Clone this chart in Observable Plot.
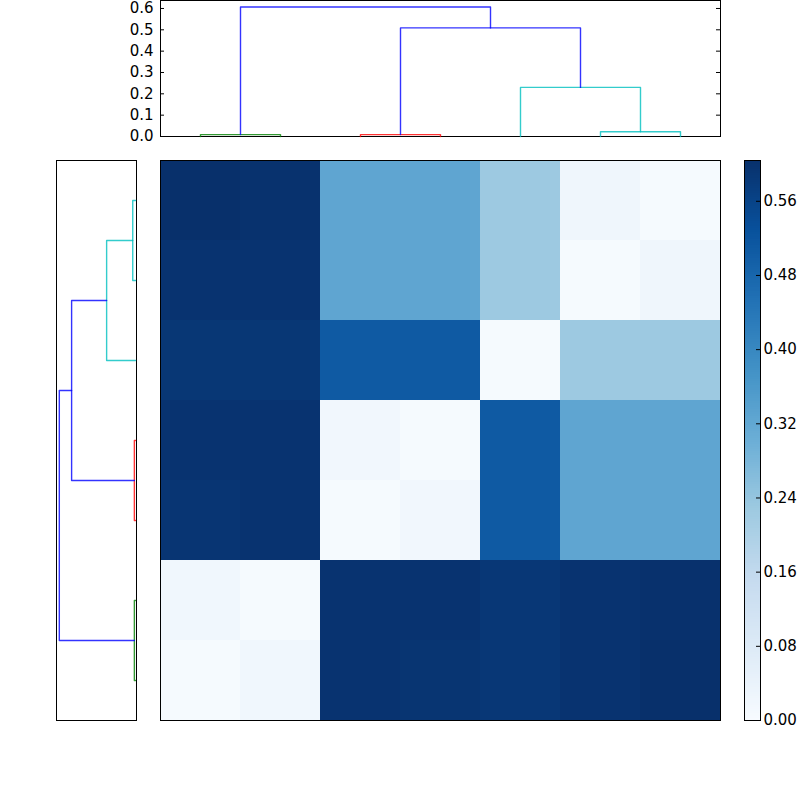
<!DOCTYPE html>
<html><head><meta charset="utf-8">
<script src="https://cdn.jsdelivr.net/npm/d3@7"></script>
<script src="https://cdn.jsdelivr.net/npm/@observablehq/plot@0.6"></script>
<style>
html,body{margin:0;padding:0;background:#fff;}
#root{position:relative;width:800px;height:800px;overflow:hidden;font-family:"DejaVu Sans",sans-serif;}
#root > svg{position:absolute;}
</style></head><body><div id="root"></div>
<script>
// Heatmap values (rows top→bottom, columns left→right)
const matrix = [
  [0.604, 0.600, 0.325, 0.325, 0.228, 0.025, 0.005],
  [0.597, 0.597, 0.325, 0.325, 0.228, 0.005, 0.025],
  [0.588, 0.588, 0.508, 0.508, 0.005, 0.228, 0.228],
  [0.596, 0.596, 0.018, 0.006, 0.508, 0.325, 0.325],
  [0.592, 0.596, 0.006, 0.018, 0.508, 0.325, 0.325],
  [0.020, 0.005, 0.596, 0.596, 0.587, 0.597, 0.601],
  [0.005, 0.020, 0.596, 0.593, 0.587, 0.597, 0.604]
];
// Dendrogram links (leaf coordinates 5,15,...,65; heights = distances)
const linkLeft = [5, 25, 55, 45, 30, 10];
const linkRight = [15, 35, 65, 60, 52.5, 41.25];
const linkHeight = [0.009, 0.009, 0.022, 0.23, 0.509, 0.607];
const linkLeftChild = [0, 0, 0, 0, 0.009, 0.009];
const linkRightChild = [0, 0, 0, 0.022, 0.23, 0.509];
const linkColor = ["g", "r", "c", "c", "b", "b"];
const dendroTicks = [0, 0.1, 0.2, 0.3, 0.4, 0.5, 0.6];
const colorbarTicks = [0, 0.08, 0.16, 0.24, 0.32, 0.40, 0.48, 0.56];

const colorMap = {g: "#008000", r: "#ff0000", c: "#00bfbf", b: "#0000ff"};
const blues9 = ["#f7fbff","#deebf7","#c6dbef","#9ecae1","#6baed6","#4292c6","#2171b5","#08519c","#08306b"];
const bluesInterp = d3.piecewise(d3.interpolateRgb, blues9);

const nLeaves = matrix.length;
const dMax = d3.max(linkHeight) * 1.05;
const vmax = d3.max(matrix.flat());

const links = linkLeft.map((l, i) => ({
  color: colorMap[linkColor[i]],
  pts: [
    {pos: l, dist: linkLeftChild[i]},
    {pos: l, dist: linkHeight[i]},
    {pos: linkRight[i], dist: linkHeight[i]},
    {pos: linkRight[i], dist: linkRightChild[i]}
  ]
}));

const baseStyle = {fontFamily: "DejaVu Sans, sans-serif", fontSize: "15px", color: "black", background: "transparent", overflow: "visible"};
const root = document.getElementById("root");
function place(svg, left, top) { svg.style.left = left + "px"; svg.style.top = top + "px"; root.appendChild(svg); }

// Top dendrogram
const topPlot = Plot.plot({
  width: 800, height: 140, marginLeft: 160, marginRight: 80, marginTop: 0, marginBottom: 4,
  style: baseStyle,
  x: {domain: [0, nLeaves * 10], axis: null},
  y: {domain: [0, dMax], ticks: dendroTicks, tickSize: 0, tickPadding: 7, tickFormat: d => d.toFixed(1), label: null},
  marks: [
    Plot.frame({stroke: "black"}),
    ...links.map(l => Plot.line(l.pts, {x: "pos", y: "dist", stroke: l.color, strokeOpacity: 0.8, strokeWidth: 1.4})),
    Plot.tickY(dendroTicks, {y: d => d, insetRight: 556, stroke: "black"}),
    Plot.tickY(dendroTicks, {y: d => d, insetLeft: 556, stroke: "black"})
  ]
});
place(topPlot, 0, 0);

// Left dendrogram
const leftPlot = Plot.plot({
  width: 150, height: 580, marginLeft: 56, marginRight: 14, marginTop: 10, marginBottom: 10,
  style: baseStyle,
  x: {domain: [0, dMax], reverse: true, axis: null},
  y: {domain: [0, nLeaves * 10], axis: null},
  marks: [
    Plot.frame({stroke: "black"}),
    ...links.map(l => Plot.line(l.pts, {x: "dist", y: "pos", dx: -1, stroke: l.color, strokeOpacity: 0.8, strokeWidth: 1.4}))
  ]
});
place(leftPlot, 0, 150);

// Heatmap
const cells = matrix.flatMap((row, r) => row.map((v, c) => ({r, c, v})));
const heat = Plot.plot({
  width: 580, height: 580, marginLeft: 10, marginRight: 10, marginTop: 10, marginBottom: 10,
  style: baseStyle,
  x: {type: "band", domain: d3.range(nLeaves), padding: 0, axis: null},
  y: {type: "band", domain: d3.range(nLeaves), padding: 0, axis: null},
  color: {type: "linear", domain: [0, vmax], interpolate: bluesInterp},
  marks: [
    Plot.cell(cells, {x: "c", y: "r", fill: "v", inset: 0, shapeRendering: "crispEdges"}),
    Plot.frame({stroke: "black"})
  ]
});
place(heat, 150, 150);

// Colorbar
const cbSteps = d3.range(256).map(i => ({y1: i * vmax / 256, y2: (i + 1) * vmax / 256}));
const cb = Plot.plot({
  width: 70, height: 580, marginLeft: 14, marginRight: 40, marginTop: 10, marginBottom: 10,
  style: baseStyle,
  x: {domain: [0, 1], axis: null},
  y: {domain: [0, vmax], axis: "right", ticks: colorbarTicks, tickSize: 0, tickPadding: 3, tickFormat: d => d.toFixed(2), label: null},
  color: {type: "linear", domain: [0, vmax], interpolate: bluesInterp},
  marks: [
    Plot.rect(cbSteps, {x1: 0, x2: 1, y1: "y1", y2: "y2", fill: d => (d.y1 + d.y2) / 2, shapeRendering: "crispEdges"}),
    Plot.tickY(colorbarTicks, {y: d => d, insetLeft: 12, stroke: "black"}),
    Plot.frame({stroke: "black"})
  ]
});
place(cb, 730, 150);
</script>
</body></html>
